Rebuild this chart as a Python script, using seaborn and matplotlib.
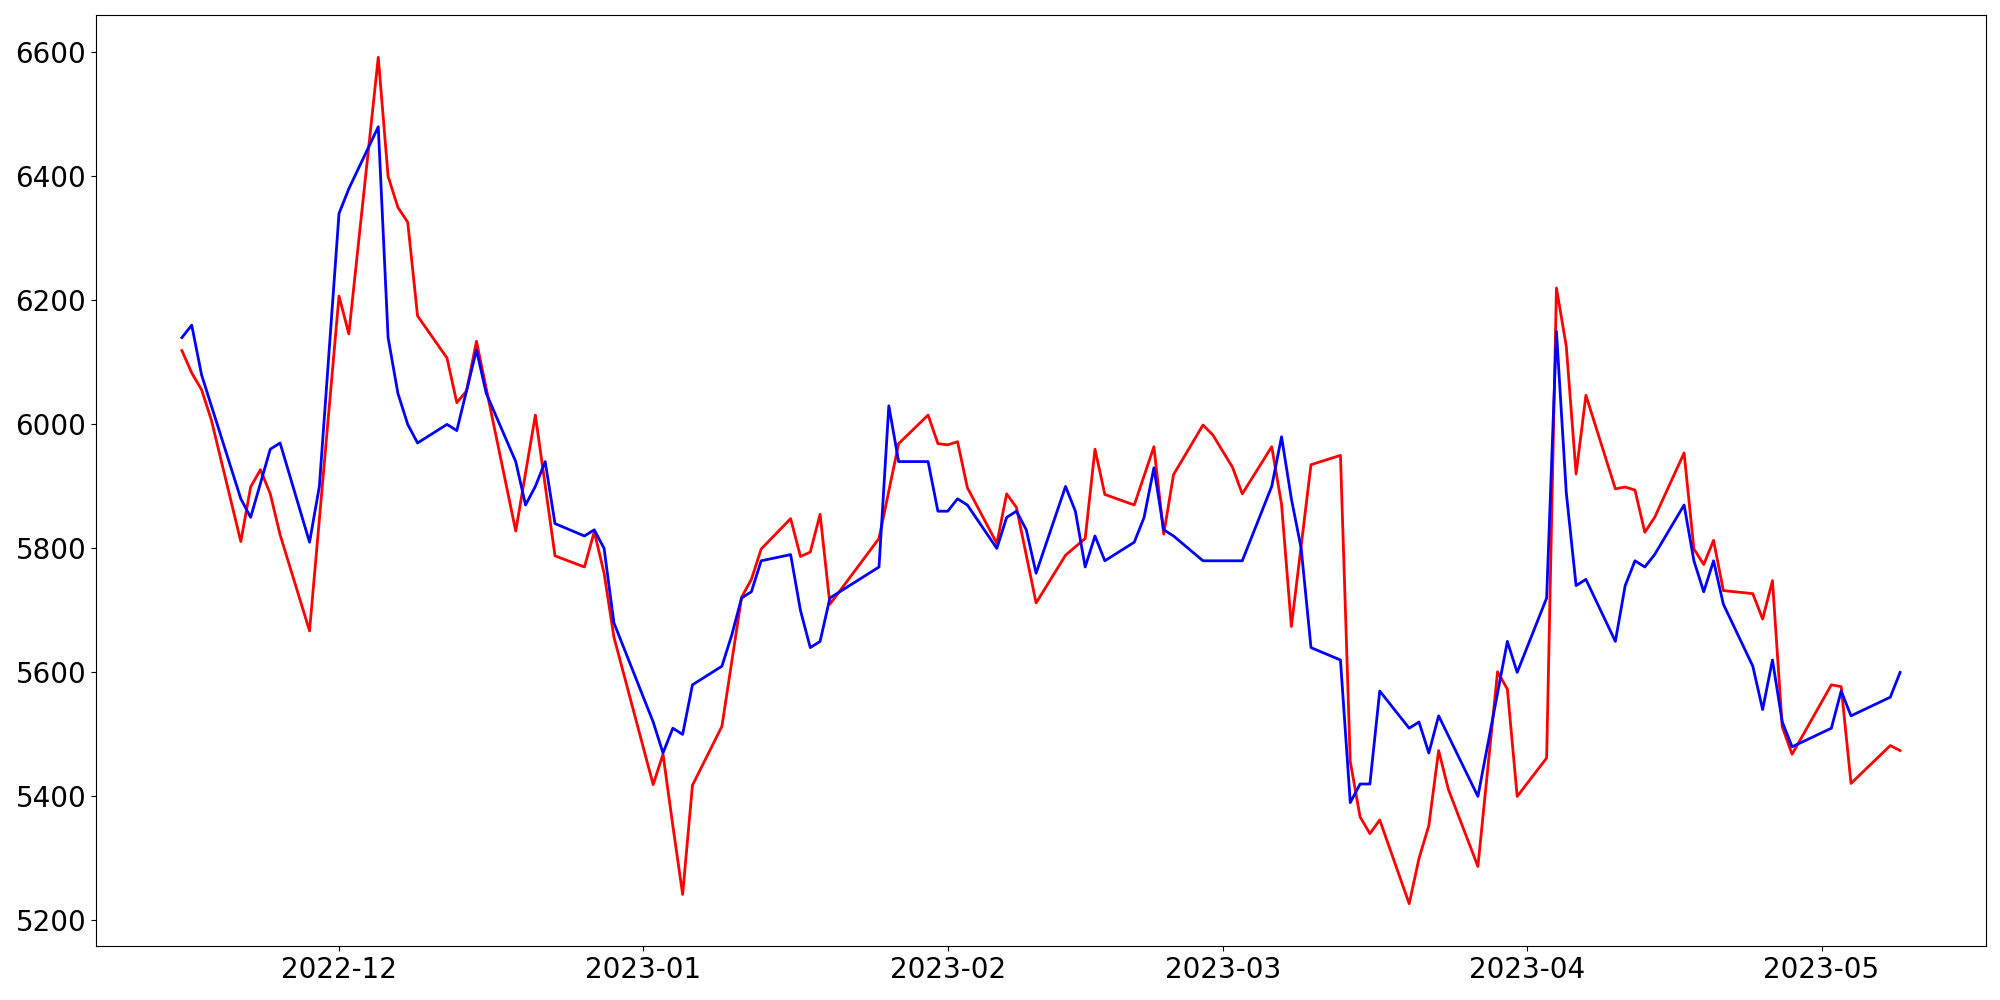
import pandas as pd
import numpy as np
import seaborn as sns
import matplotlib
matplotlib.use('Agg')
import matplotlib.pyplot as plt

# blue series
blue_dates = ['2022-11-15', '2022-11-16', '2022-11-17', '2022-11-21', '2022-11-22', '2022-11-24',
              '2022-11-25', '2022-11-28', '2022-11-29', '2022-12-01', '2022-12-02', '2022-12-05',
              '2022-12-06', '2022-12-07', '2022-12-08', '2022-12-09', '2022-12-12', '2022-12-13',
              '2022-12-15', '2022-12-16', '2022-12-19', '2022-12-20', '2022-12-21', '2022-12-22',
              '2022-12-23', '2022-12-26', '2022-12-27', '2022-12-28', '2022-12-29', '2023-01-02',
              '2023-01-03', '2023-01-04', '2023-01-05', '2023-01-06', '2023-01-09', '2023-01-10',
              '2023-01-11', '2023-01-12', '2023-01-13', '2023-01-16', '2023-01-17', '2023-01-18',
              '2023-01-19', '2023-01-20', '2023-01-25', '2023-01-26', '2023-01-27', '2023-01-30',
              '2023-01-31', '2023-02-01', '2023-02-02', '2023-02-03', '2023-02-06', '2023-02-07',
              '2023-02-08', '2023-02-09', '2023-02-10', '2023-02-13', '2023-02-14', '2023-02-15',
              '2023-02-16', '2023-02-17', '2023-02-20', '2023-02-21', '2023-02-22', '2023-02-23',
              '2023-02-24', '2023-02-27', '2023-03-03', '2023-03-06', '2023-03-07', '2023-03-08',
              '2023-03-09', '2023-03-10', '2023-03-13', '2023-03-14', '2023-03-15', '2023-03-16',
              '2023-03-17', '2023-03-20', '2023-03-21', '2023-03-22', '2023-03-23', '2023-03-27',
              '2023-03-30', '2023-03-31', '2023-04-03', '2023-04-04', '2023-04-05', '2023-04-06',
              '2023-04-07', '2023-04-10', '2023-04-11', '2023-04-12', '2023-04-13', '2023-04-14',
              '2023-04-17', '2023-04-18', '2023-04-19', '2023-04-20', '2023-04-21', '2023-04-24',
              '2023-04-25', '2023-04-26', '2023-04-27', '2023-04-28', '2023-05-02', '2023-05-03',
              '2023-05-04', '2023-05-08', '2023-05-09']
blue_vals = [6140, 6160, 6080, 5880, 5850, 5960,
             5970, 5810, 5900, 6340, 6380, 6480,
             6140, 6050, 6000, 5970, 6000, 5990,
             6120, 6050, 5940, 5870, 5900, 5940,
             5840, 5820, 5830, 5800, 5680, 5520,
             5470, 5510, 5500, 5580, 5610, 5660,
             5720, 5730, 5780, 5790, 5700, 5640,
             5650, 5720, 5770, 6030, 5940, 5940,
             5860, 5860, 5880, 5870, 5800, 5850,
             5860, 5830, 5760, 5900, 5860, 5770,
             5820, 5780, 5810, 5850, 5930, 5830,
             5820, 5780, 5780, 5900, 5980, 5880,
             5800, 5640, 5620, 5390, 5420, 5420,
             5570, 5510, 5520, 5470, 5530, 5400,
             5650, 5600, 5720, 6150, 5890, 5740,
             5750, 5650, 5740, 5780, 5770, 5790,
             5870, 5780, 5730, 5780, 5710, 5610,
             5540, 5620, 5520, 5480, 5510, 5570,
             5530, 5560, 5600]

# red series
red_dates = ['2022-11-15', '2022-11-16', '2022-11-17', '2022-11-18', '2022-11-21', '2022-11-22',
             '2022-11-23', '2022-11-24', '2022-11-25', '2022-11-28', '2022-12-01', '2022-12-02',
             '2022-12-05', '2022-12-06', '2022-12-07', '2022-12-08', '2022-12-09', '2022-12-12',
             '2022-12-13', '2022-12-14', '2022-12-15', '2022-12-19', '2022-12-21', '2022-12-23',
             '2022-12-26', '2022-12-27', '2022-12-28', '2022-12-29', '2023-01-02', '2023-01-03',
             '2023-01-04', '2023-01-05', '2023-01-06', '2023-01-09', '2023-01-11', '2023-01-12',
             '2023-01-13', '2023-01-16', '2023-01-17', '2023-01-18', '2023-01-19', '2023-01-20',
             '2023-01-25', '2023-01-27', '2023-01-30', '2023-01-31', '2023-02-01', '2023-02-02',
             '2023-02-03', '2023-02-06', '2023-02-07', '2023-02-08', '2023-02-10', '2023-02-13',
             '2023-02-15', '2023-02-16', '2023-02-17', '2023-02-20', '2023-02-22', '2023-02-23',
             '2023-02-24', '2023-02-27', '2023-02-28', '2023-03-02', '2023-03-03', '2023-03-06',
             '2023-03-07', '2023-03-08', '2023-03-10', '2023-03-13', '2023-03-14', '2023-03-15',
             '2023-03-16', '2023-03-17', '2023-03-20', '2023-03-21', '2023-03-22', '2023-03-23',
             '2023-03-24', '2023-03-27', '2023-03-29', '2023-03-30', '2023-03-31', '2023-04-03',
             '2023-04-04', '2023-04-05', '2023-04-06', '2023-04-07', '2023-04-10', '2023-04-11',
             '2023-04-12', '2023-04-13', '2023-04-14', '2023-04-17', '2023-04-18', '2023-04-19',
             '2023-04-20', '2023-04-21', '2023-04-24', '2023-04-25', '2023-04-26', '2023-04-27',
             '2023-04-28', '2023-05-02', '2023-05-03', '2023-05-04', '2023-05-08', '2023-05-09']
red_vals = [6119, 6083, 6056, 6007, 5811, 5899,
            5927, 5888, 5822, 5667, 6207, 6146,
            6592, 6400, 6350, 6326, 6175, 6107,
            6035, 6054, 6134, 5828, 6015, 5788,
            5770, 5827, 5760, 5657, 5419, 5468,
            5353, 5242, 5418, 5513, 5721, 5750,
            5799, 5848, 5787, 5794, 5855, 5710,
            5816, 5969, 6015, 5969, 5967, 5972,
            5898, 5808, 5888, 5866, 5712, 5789,
            5816, 5960, 5887, 5870, 5964, 5823,
            5919, 5999, 5983, 5931, 5888, 5964,
            5871, 5674, 5935, 5950, 5456, 5367,
            5340, 5362, 5227, 5300, 5353, 5474,
            5411, 5287, 5601, 5573, 5400, 5462,
            6220, 6126, 5920, 6047, 5896, 5899,
            5894, 5826, 5850, 5954, 5799, 5774,
            5813, 5732, 5727, 5686, 5748, 5512,
            5468, 5580, 5577, 5421, 5482, 5474]

red_df = pd.DataFrame({'date': pd.to_datetime(red_dates), 'value': red_vals})
blue_df = pd.DataFrame({'date': pd.to_datetime(blue_dates), 'value': blue_vals})

fig, ax = plt.subplots(figsize=(20, 10), dpi=100)
sns.lineplot(data=red_df, x='date', y='value', color='red', linewidth=2, ax=ax)
sns.lineplot(data=blue_df, x='date', y='value', color='blue', linewidth=2, ax=ax)

ax.set_xlabel('')
ax.set_ylabel('')
ax.tick_params(axis='both', labelsize=20)

fig.subplots_adjust(left=0.048, right=0.993, top=0.985, bottom=0.054)
plt.savefig('out.png')
